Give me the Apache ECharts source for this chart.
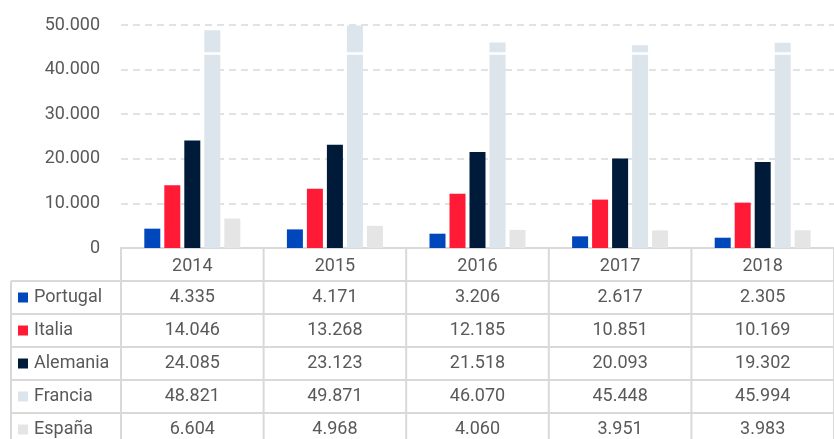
<!DOCTYPE html>
<html>
<head>
<meta charset="utf-8">
<script src="https://cdn.jsdelivr.net/npm/echarts@6/dist/echarts.min.js"></script>
<style>
  html, body { margin: 0; padding: 0; background: #fff; }
  #main { width: 834px; height: 439px; }
</style>
</head>
<body>
<div id="main"></div>
<script>
// datos
const years = ['2014', '2015', '2016', '2017', '2018'];
const portugal = [4335, 4171, 3206, 2617, 2305];
const italia = [14046, 13268, 12185, 10851, 10169];
const alemania = [24085, 23123, 21518, 20093, 19302];
const francia = [48821, 49871, 46070, 45448, 45994];
const espana = [6604, 4968, 4060, 3951, 3983];
const yTicks = [0, 10000, 20000, 30000, 40000, 50000];
const breakAt = 43700; // corte blanco en las barras de Francia

const rows = [
  { name: 'Portugal', color: '#0047BB', data: portugal },
  { name: 'Italia', color: '#FF1A35', data: italia },
  { name: 'Alemania', color: '#001A3A', data: alemania },
  { name: 'Francia', color: '#DCE4EC', data: francia },
  { name: 'España', color: '#E5E5E5', data: espana },
];

const FONT = 'Roboto';
const TXT = '#595959';
const LINE = '#D9D9D9';
const gridLeft = 121, gridTop = 25, gridBottom = 191;
const rowH = 33;

function fmt(v) {
  return String(v).replace(/\B(?=(\d{3})+(?!\d))/g, '.');
}

const chartDom = document.getElementById('main');
const myChart = echarts.init(chartDom);

const option = {
  animation: false,
  grid: { left: gridLeft, right: 0, top: gridTop, bottom: gridBottom },
  xAxis: {
    type: 'category',
    data: years,
    axisTick: { show: false },
    axisLine: { show: true, lineStyle: { color: LINE, width: 2 } },
    axisLabel: { color: TXT, fontFamily: FONT, fontSize: 18, margin: 9 },
  },
  yAxis: {
    type: 'value',
    min: yTicks[0],
    max: yTicks[yTicks.length - 1],
    interval: 10000,
    axisLine: { show: false },
    axisTick: { show: false },
    axisLabel: { color: TXT, fontFamily: FONT, fontSize: 18, margin: 21, formatter: fmt },
    splitLine: { lineStyle: { color: LINE, width: 1.5, type: [7, 5] } },
  },
  series: rows.map((r) => {
    const s = {
      name: r.name,
      type: 'bar',
      data: r.data,
      barWidth: 16,
      barGap: '25%',
      itemStyle: { color: r.color },
    };
    if (r.name === 'Francia') {
      s.markLine = {
        silent: true,
        symbol: 'none',
        label: { show: false },
        lineStyle: { color: '#fff', width: 2.5, type: 'solid' },
        data: [{ yAxis: breakAt }],
      };
    }
    return s;
  }),
};

myChart.setOption(option);

// tabla de datos debajo del gráfico
const W = myChart.getWidth();
const H = myChart.getHeight();
const y0 = H - gridBottom;
const colW = (W - gridLeft) / years.length;
const graphic = [];
const line = (x1, y1, x2, y2) => graphic.push({
  type: 'line', silent: true,
  shape: { x1, y1, x2, y2 },
  style: { stroke: LINE, lineWidth: 2 },
});

// verticales
line(11, y0 + rowH, 11, H + 5);
for (let i = 0; i <= years.length; i++) {
  const x = gridLeft + colW * i;
  line(x, y0, x, H + 5);
}
// horizontales
rows.forEach((r, i) => {
  const y = y0 + rowH * (i + 1);
  line(11, y, W + 5, y);
});

rows.forEach((r, i) => {
  const cy = y0 + rowH * (i + 1) + rowH / 2;
  graphic.push({
    type: 'rect', silent: true,
    shape: { x: 18, y: cy - 5, width: 10, height: 10 },
    style: { fill: r.color },
  });
  graphic.push({
    type: 'text', silent: true,
    x: 34, y: cy,
    style: { text: r.name, fill: TXT, font: '18px ' + FONT, textVerticalAlign: 'middle' },
  });
  r.data.forEach((v, j) => {
    const cx = myChart.convertToPixel({ xAxisIndex: 0 }, years[j]);
    graphic.push({
      type: 'text', silent: true,
      x: cx, y: cy,
      style: { text: fmt(v), fill: TXT, font: '18px ' + FONT, textAlign: 'center', textVerticalAlign: 'middle' },
    });
  });
});

myChart.setOption({ graphic: graphic });
</script>
</body>
</html>
